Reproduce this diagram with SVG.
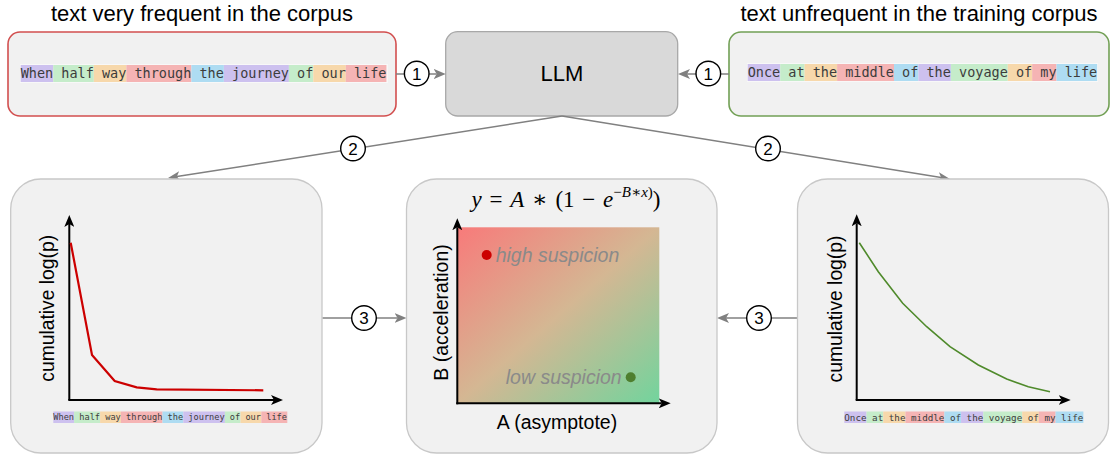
<svg xmlns="http://www.w3.org/2000/svg" width="1110" height="459" viewBox="0 0 1110 459">
<style>
.sans{font-family:"Liberation Sans",Arial,sans-serif;fill:#000}
.mono{font-family:"DejaVu Sans Mono","Liberation Mono",monospace;fill:#3c3c3c;white-space:pre}
.panel{fill:#f1f1f1;stroke:#c8c8c8;stroke-width:1.3}
.conn{stroke:#808080;stroke-width:1.5;fill:none}
.axis{stroke:#000;stroke-width:2;fill:none}
.num{fill:#fff;stroke:#000;stroke-width:1.4}
.numt{font-family:"Liberation Sans",Arial,sans-serif;font-size:17px;text-anchor:middle;fill:#000}
.P{fill:#cdc1ef}.G{fill:#c5ecca}.O{fill:#f7d8ab}.R{fill:#f5b4b4}.B{fill:#aedcf2}
.lab{fill:#8a8a8a;font-style:italic;font-size:19.5px}
</style>
<defs>
<marker id="ag" viewBox="0 0 12 10" refX="3" refY="5" markerWidth="12" markerHeight="10" markerUnits="userSpaceOnUse" orient="auto">
<path d="M0,0 L12,5 L0,10 L3,5 z" fill="#808080"/>
</marker>
<marker id="ab" viewBox="0 0 12 10" refX="3" refY="5" markerWidth="12" markerHeight="10" markerUnits="userSpaceOnUse" orient="auto">
<path d="M0,0 L12,5 L0,10 L3,5 z" fill="#000"/>
</marker>
<linearGradient id="grad" x1="0" y1="0" x2="1" y2="1">
<stop offset="0" stop-color="#f87a7a"/>
<stop offset="0.5" stop-color="#d4b793"/>
<stop offset="1" stop-color="#72d49d"/>
</linearGradient>
</defs>

<g id="title-left"><text class="sans" x="202" y="21" font-size="22" text-anchor="middle">text very frequent in the corpus</text></g>
<g id="title-right"><text class="sans" x="919" y="21" font-size="22" text-anchor="middle">text unfrequent in the training corpus</text></g>

<g id="input-frequent">
<rect x="8" y="32" width="388" height="84" rx="12" fill="#f1f1f1" stroke="#d24f4f" stroke-width="1.6"/>
<rect x="20" y="64" width="368" height="19" fill="#f8f8f8"/>
<rect class="P" x="20.7" y="65" width="32.51" height="17"/>
<rect class="G" x="53.21" y="65" width="40.63" height="17"/>
<rect class="O" x="93.84" y="65" width="32.51" height="17"/>
<rect class="R" x="126.35" y="65" width="65.02" height="17"/>
<rect class="B" x="191.37" y="65" width="32.51" height="17"/>
<rect class="P" x="223.88" y="65" width="65.02" height="17"/>
<rect class="G" x="288.9" y="65" width="24.38" height="17"/>
<rect class="O" x="313.28" y="65" width="32.51" height="17"/>
<rect class="R" x="345.79" y="65" width="40.63" height="17"/>
<text class="mono" x="20.7" y="78.4" font-size="13.5">When half way through the journey of our life</text>
</g>

<g id="input-unfrequent">
<rect x="729" y="32" width="380" height="84" rx="12" fill="#f1f1f1" stroke="#72a055" stroke-width="1.6"/>
<rect x="747" y="63" width="351" height="19" fill="#f8f8f8"/>
<rect class="P" x="747.7" y="64" width="32.51" height="17"/>
<rect class="G" x="780.21" y="64" width="24.38" height="17"/>
<rect class="O" x="804.59" y="64" width="32.51" height="17"/>
<rect class="R" x="837.1" y="64" width="56.89" height="17"/>
<rect class="B" x="893.99" y="64" width="24.38" height="17"/>
<rect class="P" x="918.37" y="64" width="32.51" height="17"/>
<rect class="G" x="950.88" y="64" width="56.89" height="17"/>
<rect class="O" x="1007.77" y="64" width="24.38" height="17"/>
<rect class="R" x="1032.15" y="64" width="24.38" height="17"/>
<rect class="B" x="1056.53" y="64" width="40.63" height="17"/>
<text class="mono" x="747.7" y="77.4" font-size="13.5">Once at the middle of the voyage of my life</text>
</g>

<g id="llm">
<rect x="445.7" y="31.7" width="232" height="84.3" rx="12" fill="#d9d9d9" stroke="#a8a8a8" stroke-width="1.3"/>
<text class="sans" x="562" y="81" font-size="22" text-anchor="middle">LLM</text>
</g>

<g id="connectors">
<line class="conn" x1="396" y1="74" x2="436.7" y2="74" marker-end="url(#ag)"/>
<line class="conn" x1="729" y1="74" x2="687" y2="74" marker-end="url(#ag)"/>
<line class="conn" x1="562" y1="116" x2="176.9" y2="176.6" marker-end="url(#ag)"/>
<line class="conn" x1="562" y1="116" x2="941.1" y2="177.6" marker-end="url(#ag)"/>
<line class="conn" x1="322.3" y1="318" x2="397.5" y2="318" marker-end="url(#ag)"/>
<line class="conn" x1="797.5" y1="318" x2="726" y2="318" marker-end="url(#ag)"/>
<circle class="num" cx="416.7" cy="73.5" r="12.3"/><text class="numt" x="416.7" y="79.6">1</text>
<circle class="num" cx="708.3" cy="73.5" r="12.3"/><text class="numt" x="708.3" y="79.6">1</text>
<circle class="num" cx="353" cy="148.5" r="12.3"/><text class="numt" x="353" y="154.6">2</text>
<circle class="num" cx="768" cy="148.5" r="12.3"/><text class="numt" x="768" y="154.6">2</text>
<circle class="num" cx="364" cy="318" r="12.3"/><text class="numt" x="364" y="324.1">3</text>
<circle class="num" cx="759" cy="318" r="12.3"/><text class="numt" x="759" y="324.1">3</text>
</g>

<g id="panel-frequent">
<rect class="panel" x="10.7" y="179" width="311.3" height="274" rx="30"/>
<line class="axis" x1="69.3" y1="400" x2="69.3" y2="224" marker-end="url(#ab)"/>
<line class="axis" x1="68.3" y1="400" x2="274" y2="400" marker-end="url(#ab)"/>
<polyline points="70.7,242.7 92,355 114.7,381 136.7,387.3 156.7,389.3 263.3,390.3" fill="none" stroke="#cc0000" stroke-width="2.2"/>
<text class="sans" transform="translate(54,308.3) rotate(-90)" font-size="19.3" text-anchor="middle">cumulative log(p)</text>
<rect class="P" x="53.3" y="411.5" width="20.8" height="11.5"/>
<rect class="G" x="74.1" y="411.5" width="26" height="11.5"/>
<rect class="O" x="100.1" y="411.5" width="20.8" height="11.5"/>
<rect class="R" x="120.9" y="411.5" width="41.6" height="11.5"/>
<rect class="B" x="162.5" y="411.5" width="20.8" height="11.5"/>
<rect class="P" x="183.3" y="411.5" width="41.6" height="11.5"/>
<rect class="G" x="224.9" y="411.5" width="15.6" height="11.5"/>
<rect class="O" x="240.5" y="411.5" width="20.8" height="11.5"/>
<rect class="R" x="261.3" y="411.5" width="26" height="11.5"/>
<text class="mono" x="53.3" y="420.4" font-size="8.64">When half way through the journey of our life</text>
</g>

<g id="panel-fit">
<rect class="panel" x="406.5" y="179" width="310.5" height="274" rx="30"/>
<text x="566" y="207" font-family="'Liberation Serif','DejaVu Serif',serif" font-size="23" word-spacing="2" text-anchor="middle"><tspan font-style="italic">y</tspan> = <tspan font-style="italic">A</tspan> ∗ (1 − <tspan font-style="italic">e</tspan><tspan font-size="15" dy="-10">−<tspan font-style="italic">B</tspan>∗<tspan font-style="italic">x</tspan>)</tspan><tspan dy="10">)</tspan></text>
<rect x="457.3" y="227.3" width="202" height="176" fill="url(#grad)"/>
<line class="axis" x1="457.3" y1="404.3" x2="457.3" y2="227.3" marker-end="url(#ab)"/>
<line class="axis" x1="456.3" y1="403.3" x2="661.7" y2="403.3" marker-end="url(#ab)"/>
<circle cx="486.7" cy="255" r="5" fill="#cc0000"/>
<text class="sans lab" x="495.7" y="261.5">high suspicion</text>
<circle cx="630.7" cy="377.3" r="5" fill="#4e7f2f"/>
<text class="sans lab" x="621.7" y="383.8" text-anchor="end">low suspicion</text>
<text class="sans" transform="translate(448,312.5) rotate(-90)" font-size="19.5" text-anchor="middle">B (acceleration)</text>
<text class="sans" x="557" y="428.5" font-size="19.5" text-anchor="middle">A (asymptote)</text>
</g>

<g id="panel-unfrequent">
<rect class="panel" x="797.5" y="179" width="311" height="274" rx="30"/>
<line class="axis" x1="856.7" y1="400" x2="856.7" y2="223.3" marker-end="url(#ab)"/>
<line class="axis" x1="855.7" y1="400" x2="1061.7" y2="400" marker-end="url(#ab)"/>
<polyline points="859.3,242.7 878.3,271.7 902.7,303.3 926.7,326.7 950,346.7 978.3,365 1006.7,379 1028.3,386.7 1050,391.7" fill="none" stroke="#4f8a2b" stroke-width="1.6"/>
<text class="sans" transform="translate(841.7,309) rotate(-90)" font-size="19.3" text-anchor="middle">cumulative log(p)</text>
<rect class="P" x="844.3" y="411.5" width="22.24" height="11.5"/>
<rect class="G" x="866.54" y="411.5" width="16.68" height="11.5"/>
<rect class="O" x="883.22" y="411.5" width="22.24" height="11.5"/>
<rect class="R" x="905.46" y="411.5" width="38.92" height="11.5"/>
<rect class="B" x="944.38" y="411.5" width="16.68" height="11.5"/>
<rect class="P" x="961.06" y="411.5" width="22.24" height="11.5"/>
<rect class="G" x="983.3" y="411.5" width="38.92" height="11.5"/>
<rect class="O" x="1022.22" y="411.5" width="16.68" height="11.5"/>
<rect class="R" x="1038.9" y="411.5" width="16.68" height="11.5"/>
<rect class="B" x="1055.58" y="411.5" width="27.8" height="11.5"/>
<text class="mono" x="844.3" y="420.6" font-size="9.24">Once at the middle of the voyage of my life</text>
</g>
</svg>
